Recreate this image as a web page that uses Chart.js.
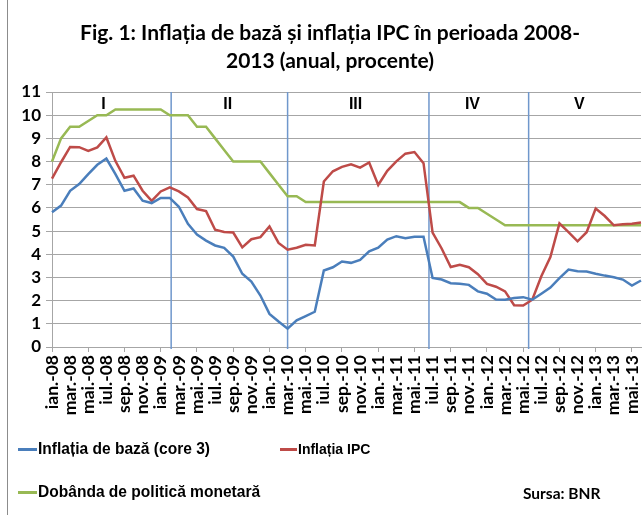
<!DOCTYPE html>
<html>
<head>
<meta charset="utf-8">
<script src="https://cdn.jsdelivr.net/npm/chart.js@4.4.0/dist/chart.umd.min.js"></script>
<style>
    html, body { margin: 0; padding: 0; background: #fff; }
    #wrap { position: relative; width: 642px; height: 515px; overflow: hidden; }
    #chart-box { position: absolute; left: 0; top: 0; width: 642px; height: 515px; }
    #rama { position: absolute; left: 7px; top: 0; width: 1px; height: 515px; background: #8c8c8c; }
    #titlu { position: absolute; left: 0; top: 18px; width: 660px; text-align: center;
             font: bold 21px Lato, "Open Sans", sans-serif; line-height: 28px; color: #000; }
    .leg { position: absolute; font-family: "Liberation Sans Narrow", "Arial Narrow", sans-serif;
           font-weight: bold; line-height: 20px; color: #000; white-space: nowrap;
           transform-origin: left center; }
    .sw { position: absolute; height: 2.5px; }
    #sursa { position: absolute; left: 523px; top: 484px; font: bold 15.5px Lato, sans-serif;
             line-height: 18px; color: #000; }
</style>
</head>
<body>
<div id="wrap">
    <div id="rama"></div>
    <div id="chart-box"><canvas id="chart-inflatie"></canvas></div>
    <div id="titlu">Fig. 1: Inflația de bază și inflația IPC în perioada 2008-<br>2013 (anual, procente)</div>

    <div class="sw" style="left:18px;top:448px;width:19px;background:#4a7ebb"></div>
    <div class="leg" style="left:38px;top:439px;font-size:17px;transform:scaleX(0.915)">Inflația de bază (core 3)</div>
    <div class="sw" style="left:280px;top:448px;width:17px;background:#be4b48"></div>
    <div class="leg" style="left:298px;top:439px;font-size:14px">Inflația IPC</div>
    <div class="sw" style="left:18px;top:491px;width:19px;background:#98b954"></div>
    <div class="leg" style="left:38px;top:482px;font-size:17px;transform:scaleX(0.915)">Dobânda de politică monetară</div>
    <div id="sursa">Sursa: BNR</div>
</div>

<script>
/* --- DATE --- */
const numeLuni = ['ian.', 'feb.', 'mar.', 'apr.', 'mai.', 'iun.', 'iul.', 'aug.', 'sep.', 'oct.', 'nov.', 'dec.'];
const ani = ['08', '09', '10', '11', '12', '13'];

// Inflatia de baza (core 3), ian.-08 ... iun.-13
const core3 = [
    5.81, 6.10, 6.74, 7.03, 7.46, 7.86, 8.13, 7.46, 6.74, 6.84, 6.31, 6.21,
    6.43, 6.43, 6.05, 5.31, 4.85, 4.59, 4.38, 4.28, 3.90, 3.16, 2.82, 2.22,
    1.43, 1.10, 0.79, 1.15, 1.33, 1.52, 3.30, 3.44, 3.69, 3.63, 3.76, 4.13,
    4.28, 4.63, 4.78, 4.69, 4.76, 4.76, 2.98, 2.91, 2.75, 2.73, 2.68, 2.40,
    2.30, 2.05, 2.04, 2.11, 2.15, 2.04, 2.30, 2.56, 2.97, 3.34, 3.27, 3.26,
    3.16, 3.08, 3.01, 2.91, 2.65, 2.87
];

// Inflatia IPC
const ipc = [
    7.26, 7.97, 8.63, 8.62, 8.46, 8.61, 9.04, 8.02, 7.30, 7.39, 6.74, 6.30,
    6.71, 6.89, 6.71, 6.45, 5.95, 5.86, 5.06, 4.96, 4.94, 4.30, 4.65, 4.74,
    5.20, 4.49, 4.20, 4.28, 4.41, 4.38, 7.14, 7.58, 7.77, 7.88, 7.74, 7.96,
    6.99, 7.60, 8.01, 8.34, 8.41, 7.93, 4.93, 4.25, 3.45, 3.55, 3.44, 3.14,
    2.72, 2.60, 2.40, 1.80, 1.79, 2.04, 3.05, 3.88, 5.33, 4.96, 4.56, 4.95,
    5.97, 5.65, 5.25, 5.30, 5.32, 5.37
];

// Dobanda de politica monetara
const dobanda = [
    8.00, 9.00, 9.50, 9.50, 9.75, 10.00, 10.00, 10.25, 10.25, 10.25, 10.25, 10.25,
    10.25, 10.00, 10.00, 10.00, 9.50, 9.50, 9.00, 8.50, 8.00, 8.00, 8.00, 8.00,
    7.50, 7.00, 6.50, 6.50, 6.25, 6.25, 6.25, 6.25, 6.25, 6.25, 6.25, 6.25,
    6.25, 6.25, 6.25, 6.25, 6.25, 6.25, 6.25, 6.25, 6.25, 6.25, 6.00, 6.00,
    5.75, 5.50, 5.25, 5.25, 5.25, 5.25, 5.25, 5.25, 5.25, 5.25, 5.25, 5.25,
    5.25, 5.25, 5.25, 5.25, 5.25, 5.25
];

// Perioadele I - V (pozitii pe axa lunilor)
const perioade = ['I', 'II', 'III', 'IV', 'V'];
const pozPerioade = [5.67, 19.4, 33.5, 46.4, 58.2];
const limitePerioade = [13.15, 26, 41.6, 52.6];
const nivelEticheta = 10.5;

// Culori
const ALBASTRU = '#4a7ebb';
const ROSU = '#be4b48';
const VERDE = '#98b954';
const GRI = '#a6a6a6';

const luni = [];
for (let i = 0; i < core3.length; i++) {
    luni.push(numeLuni[i % 12] + '-' + ani[Math.floor(i / 12)]);
}

/* --- linii verticale si etichete perioade --- */
const pluginPerioade = {
    id: 'perioade',
    beforeDatasetsDraw(chart) {
        const { ctx, chartArea, scales } = chart;
        ctx.save();
        ctx.strokeStyle = '#6f97cc';
        ctx.lineWidth = 1.5;
        limitePerioade.forEach(v => {
            const x = scales.x.getPixelForValue(v);
            ctx.beginPath();
            ctx.moveTo(x, chartArea.top);
            ctx.lineTo(x, chartArea.bottom + 2);
            ctx.stroke();
        });
        ctx.fillStyle = '#000';
        ctx.font = 'bold 16px "Liberation Sans", Arial, sans-serif';
        ctx.textAlign = 'center';
        ctx.textBaseline = 'middle';
        const y = scales.y.getPixelForValue(nivelEticheta);
        perioade.forEach((t, i) => {
            ctx.fillText(t, scales.x.getPixelForValue(pozPerioade[i]), y + 1);
        });
        ctx.restore();
    }
};

const serie = (label, data, color) => ({
    label, data,
    borderColor: color,
    backgroundColor: color,
    borderWidth: 2.5,
    pointRadius: 0,
    fill: false,
    tension: 0
});

new Chart(document.getElementById('chart-inflatie'), {
    type: 'line',
    data: {
        labels: luni,
        datasets: [
            serie('Inflația de bază (core 3)', core3, ALBASTRU),
            serie('Inflația IPC', ipc, ROSU),
            serie('Dobânda de politică monetară', dobanda, VERDE)
        ]
    },
    options: {
        animation: false,
        responsive: true,
        maintainAspectRatio: false,
        layout: { padding: { left: 8, right: 1, top: 92, bottom: 0 } },
        plugins: {
            legend: { display: false },
            tooltip: { enabled: false }
        },
        scales: {
            x: {
                offset: false,
                border: { color: GRI, width: 1 },
                grid: {
                    drawOnChartArea: false,
                    drawTicks: true,
                    tickLength: 5,
                    tickColor: c => (c.index % 2 === 0 ? GRI : 'rgba(0,0,0,0)')
                },
                ticks: {
                    autoSkip: false,
                    maxRotation: 90,
                    minRotation: 90,
                    padding: 3,
                    color: '#000',
                    font: { family: 'Lato, "Open Sans", sans-serif', size: 17.5, weight: 'bold' },
                    callback: function (val, i) {
                        return i % 2 === 0 ? this.getLabelForValue(val) : null;
                    }
                },
                afterFit: s => { s.height = 168; s.paddingRight = 0; s.paddingLeft = 0; }
            },
            y: {
                min: 0,
                max: 11,
                border: { color: GRI, width: 1 },
                grid: { color: GRI, lineWidth: 1, tickLength: 6 },
                ticks: {
                    stepSize: 1,
                    autoSkip: false,
                    maxTicksLimit: 20,
                    padding: 5,
                    color: '#000',
                    font: { family: 'Lato, "Open Sans", sans-serif', size: 17, weight: 'bold', lineHeight: 1 }
                },
                afterFit: s => { s.width = 44; }
            }
        }
    },
    plugins: [pluginPerioade]
});
</script>
</body>
</html>
